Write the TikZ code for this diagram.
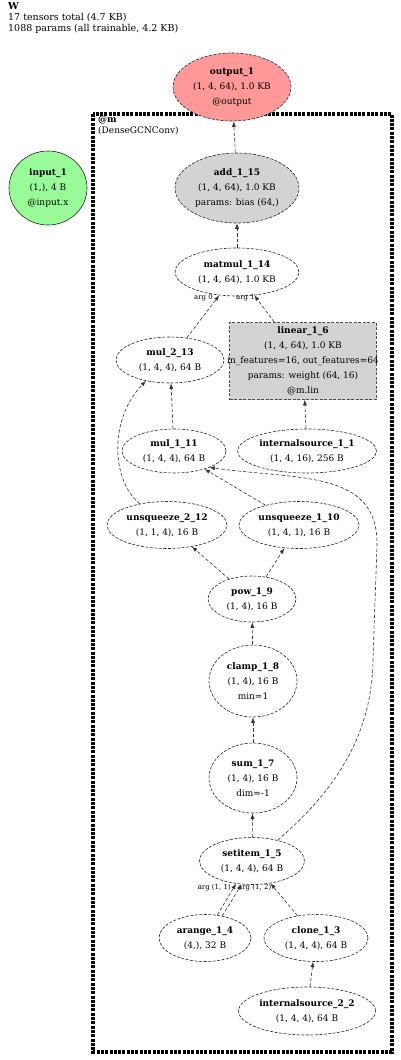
\documentclass[tikz,border=0pt]{standalone}
\usepackage{fontspec}
\setmainfont{DejaVu Serif}
\usepackage{xcolor}
\usepackage{tikz}
\usetikzlibrary{shapes.geometric,arrows.meta,positioning}

\definecolor{outred}{RGB}{255,153,153}
\definecolor{ingreen}{RGB}{152,251,152}
\definecolor{pargray}{RGB}{211,211,211}

\begin{document}
\begin{tikzpicture}[x=1pt, y=-1pt,
  every node/.style={font=\fontsize{9}{15}\selectfont, align=center, inner sep=0pt},
  tens/.style={ellipse, draw=black!85, line width=0.6pt, dash pattern=on 3pt off 1.5pt},
  flow/.style={draw=black!80, line width=0.6pt, dash pattern=on 3.5pt off 2pt, -{Latex[length=5.5pt,width=4pt]}},
  arglbl/.style={font=\fontsize{7}{8}\selectfont}]
  \useasboundingbox (0,0) rectangle (400,1060);

  \node[anchor=north west, align=left, font=\fontsize{9.5}{11}\selectfont] (title) at (8,2)
    {\textbf{W}\\17 tensors total (4.7 KB)\\1088 params (all trainable, 4.2 KB)};

  % module box
  \draw[line width=3.5pt, dash pattern=on 3pt off 1.3pt] (93,114) rectangle (392,1052);
  \node[anchor=north west, align=left, font=\fontsize{9}{11}\selectfont] (mlbl) at (98,116)
    {\textbf{@m}\\(DenseGCNConv)};

  \node[tens, fill=outred, minimum width=118pt, minimum height=68pt] (out1) at (232,87)
    {\textbf{output\_1}\\(1, 4, 64), 1.0 KB\\@output};
  \node[ellipse, draw=black!85, line width=0.6pt, fill=ingreen, minimum width=78pt, minimum height=74pt] (in1) at (48,188)
    {\textbf{input\_1}\\(1,), 4 B\\@input.x};
  \node[tens, fill=pargray, minimum width=124pt, minimum height=70pt] (add15) at (237,188)
    {\textbf{add\_1\_15}\\(1, 4, 64), 1.0 KB\\params: bias (64,)};
  \node[tens, minimum width=124pt, minimum height=48pt] (mm14) at (237,272)
    {\textbf{matmul\_1\_14}\\(1, 4, 64), 1.0 KB};
  \node[tens, minimum width=108pt, minimum height=46pt] (mul213) at (170,360)
    {\textbf{mul\_2\_13}\\(1, 4, 4), 64 B};
  \node[draw=black!70, fill=pargray, line width=0.6pt, dash pattern=on 3pt off 1.5pt,
        minimum height=77pt, inner xsep=-2.5pt] (lin16) at (303,361)
    {\textbf{linear\_1\_6}\\(1, 4, 64), 1.0 KB\\in\_features=16, out\_features=64\\params: weight (64, 16)\\@m.lin};
  \node[tens, minimum width=104pt, minimum height=44pt] (mul111) at (174,451)
    {\textbf{mul\_1\_11}\\(1, 4, 4), 64 B};
  \node[tens, minimum width=139pt, minimum height=44pt] (isrc11) at (307,451)
    {\textbf{internalsource\_1\_1}\\(1, 4, 16), 256 B};
  \node[tens, minimum width=120pt, minimum height=47pt] (unsq212) at (167,525)
    {\textbf{unsqueeze\_2\_12}\\(1, 1, 4), 16 B};
  \node[tens, minimum width=120pt, minimum height=47pt] (unsq110) at (299,525)
    {\textbf{unsqueeze\_1\_10}\\(1, 4, 1), 16 B};
  \node[tens, minimum width=88pt, minimum height=46pt] (pow19) at (252,599)
    {\textbf{pow\_1\_9}\\(1, 4), 16 B};
  \node[tens, minimum width=88pt, minimum height=72pt] (clamp18) at (253,681)
    {\textbf{clamp\_1\_8}\\(1, 4), 16 B\\min=1};
  \node[tens, minimum width=88pt, minimum height=70pt] (sum17) at (253,778)
    {\textbf{sum\_1\_7}\\(1, 4), 16 B\\dim=-1};
  \node[tens, minimum width=105pt, minimum height=47pt] (set15) at (252,861)
    {\textbf{setitem\_1\_5}\\(1, 4, 4), 64 B};
  \node[tens, minimum width=92pt, minimum height=47pt] (arange14) at (205,938)
    {\textbf{arange\_1\_4}\\(4,), 32 B};
  \node[tens, minimum width=104pt, minimum height=47pt] (clone13) at (316,938)
    {\textbf{clone\_1\_3}\\(1, 4, 4), 64 B};
  \node[tens, minimum width=137pt, minimum height=48pt] (isrc22) at (307,1011)
    {\textbf{internalsource\_2\_2}\\(1, 4, 4), 64 B};

  % argument labels
  \node[arglbl, anchor=east] (a0) at (213,298) {arg 0};
  \node[arglbl, anchor=east] (a1) at (255,298) {arg 1};
  \node[arglbl, anchor=east] (a11) at (231,888) {arg (1, 1)};
  \node[arglbl, anchor=west] (a12) at (238,888) {arg (1, 2)};

  % connectors
  \draw[flow] (add15) -- (out1);
  \draw[flow] (mm14) -- (add15);
  \draw[flow] (mul213) -- (mm14);
  \draw[flow] (lin16) -- (mm14);
  \draw[flow] (mul111) -- (mul213);
  \draw[flow] (unsq212.142) .. controls (112,482) and (108,420) .. (mul213.221);
  \draw[flow] (isrc11) -- (lin16);
  \draw[flow] (unsq110) -- (mul111);
  \draw[flow] (set15.39) .. controls (330,795) and (372,740) .. (373,660)
    -- (377,545) .. controls (378,470) and (300,480) .. (mul111.335);
  \draw[flow] (pow19) -- (unsq212);
  \draw[flow] (pow19) -- (unsq110);
  \draw[flow] (clamp18) -- (pow19);
  \draw[flow] (sum17) -- (clamp18);
  \draw[flow] (set15) -- (sum17);
  \draw[flow] (arange14.62) -- (set15.235);
  \draw[flow] (arange14.52) -- (set15.246);
  \draw[flow] (clone13) -- (set15);
  \draw[flow] (isrc22) -- (clone13);
\end{tikzpicture}
\end{document}
